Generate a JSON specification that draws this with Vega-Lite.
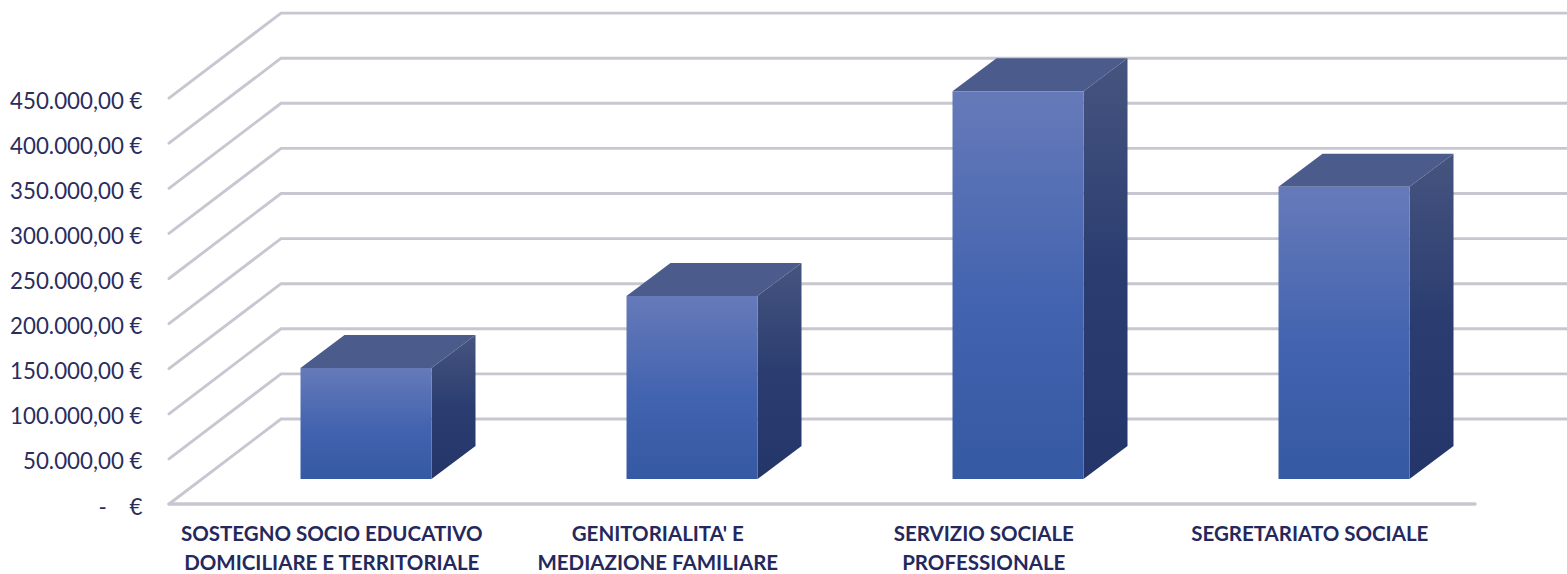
{
"$schema":"https://vega.github.io/schema/vega-lite/v6.json",
"width":1567,"height":574,"padding":0,"autosize":{"type":"none"},
"background":"white",
"config":{"view":{"stroke":null},"font":"Lato"},
"datasets":{
"voci":[
{"ordine":1,"categoria":"SOSTEGNO SOCIO EDUCATIVO\nDOMICILIARE E TERRITORIALE","importo":123000},
{"ordine":2,"categoria":"GENITORIALITA' E\nMEDIAZIONE FAMILIARE","importo":203000},
{"ordine":3,"categoria":"SERVIZIO SOCIALE\nPROFESSIONALE","importo":430000},
{"ordine":4,"categoria":"SEGRETARIATO SOCIALE","importo":324000}],
"livelli":[{"livello":0},{"livello":50000},{"livello":100000},{"livello":150000},{"livello":200000},{"livello":250000},{"livello":300000},{"livello":350000},{"livello":400000},{"livello":450000}]
},
"layer":[
{"data":{"name":"livelli"},
 "transform":[
  {"calculate":"[0,1,2]","as":"n"},
  {"calculate":"[0.3957,0.7393,4.7]","as":"xs"},
  {"calculate":"[datum.livello,datum.livello+94235,datum.livello+94235]","as":"ys"},
  {"flatten":["n","xs","ys"]}],
 "mark":{"type":"line","color":"#c7c7d1","strokeWidth":2.9,"clip":true,"strokeCap":"round"},
 "encoding":{
  "x":{"field":"xs","type":"quantitative","scale":{"domain":[-0.1227,4.684],"nice":false,"zero":false},"axis":null},
  "y":{"field":"ys","type":"quantitative","scale":{"domain":[-77605,558758],"nice":false,"zero":false},
   "axis":{"orient":"left","title":null,"offset":-142,"domain":false,"ticks":false,"grid":false,"labelPadding":0,
    "values":[0,50000,100000,150000,200000,250000,300000,350000,400000,450000],
    "labelExpr":"datum.value==0?'-\u00a0\u00a0\u00a0\u00a0€':replace(format(datum.value,',.0f'),',','.')+',00 €'",
    "labelFontSize":22.3,"labelColor":"#2a2c5e","labelFont":"Lato","labelOffset":3}},
  "detail":{"field":"livello"},
  "order":{"field":"n","type":"quantitative"}}},
{"data":{"name":"livelli"},
 "transform":[{"filter":"datum.livello==0"},{"calculate":"[0,1]","as":"n"},{"calculate":"[0.3957,4.402]","as":"xs"},{"flatten":["n","xs"]}],
 "mark":{"type":"line","color":"#c7c7d1","strokeWidth":3.4,"strokeCap":"round"},
 "encoding":{"x":{"field":"xs","type":"quantitative"},"y":{"field":"livello","type":"quantitative"}}},
{"data":{"name":"voci"},
 "transform":[{"calculate":"[0,1]","as":"t"},{"flatten":["t"]},
  {"calculate":"datum.ordine+0.2009+datum.t*0.135","as":"xa"},
  {"calculate":"27716+datum.t*36585","as":"yb"},
  {"calculate":"datum.yb+datum.importo","as":"yt"}],
 "mark":{"type":"area","color":{"x1":0,"y1":0,"x2":0,"y2":1,"gradient":"linear","stops":[{"offset":0,"color":"#46547f"},{"offset":0.5,"color":"#2b3d70"},{"offset":1,"color":"#24356a"}]}},
 "encoding":{"x":{"field":"xa","type":"quantitative"},"y":{"field":"yt","type":"quantitative"},"y2":{"field":"yb"},"detail":{"field":"ordine"}}},
{"data":{"name":"voci"},
 "transform":[{"calculate":"[0,1]","as":"t"},{"flatten":["t"]},
  {"calculate":"datum.ordine-0.2009+datum.t*0.135","as":"xa"},
  {"calculate":"datum.ordine+0.2009+datum.t*0.135","as":"xb"},
  {"calculate":"27716+datum.importo+datum.t*36585","as":"yt"}],
 "mark":{"type":"area","orient":"horizontal","color":"#4b5b8b"},
 "encoding":{"y":{"field":"yt","type":"quantitative"},"x":{"field":"xa","type":"quantitative"},"x2":{"field":"xb"},"detail":{"field":"ordine"}}},
{"data":{"name":"voci"},
 "transform":[
  {"calculate":"datum.ordine-0.2009","as":"xa"},{"calculate":"datum.ordine+0.2009","as":"xb"},
  {"calculate":"27716","as":"yb"},{"calculate":"27716+datum.importo","as":"yt"}],
 "mark":{"type":"rect","color":{"x1":0,"y1":0,"x2":0,"y2":1,"gradient":"linear","stops":[{"offset":0,"color":"#667ab9"},{"offset":0.55,"color":"#4263af"},{"offset":1,"color":"#3659a3"}]}},
 "encoding":{"x":{"field":"xa","type":"quantitative"},"x2":{"field":"xb"},"y":{"field":"yt","type":"quantitative"},"y2":{"field":"yb"}}},
{"data":{"name":"voci"},
 "transform":[{"calculate":"datum.ordine-0.105","as":"xl"}],
 "mark":{"type":"text","lineBreak":"\n","lineHeight":29,"baseline":"top","align":"center","fontSize":20.5,"fontWeight":"bold","font":"Lato","color":"#25285c"},
 "encoding":{"x":{"field":"xl","type":"quantitative"},"y":{"datum":-23000},"text":{"field":"categoria"}}}
]
}
